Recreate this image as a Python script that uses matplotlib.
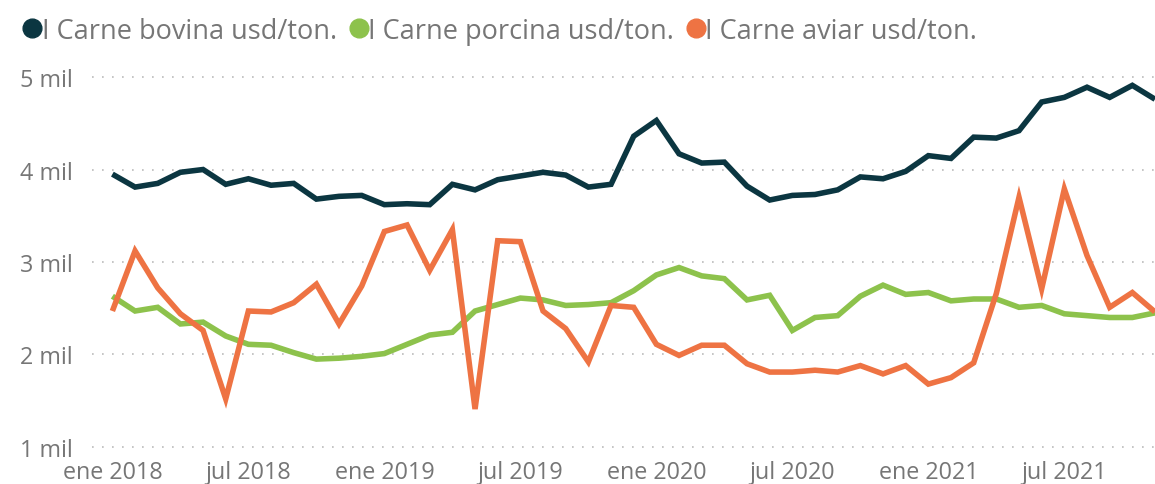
import matplotlib
matplotlib.use("Agg")
import matplotlib.pyplot as plt
from matplotlib.lines import Line2D

# monthly prices, ene 2018 .. nov 2021 (thousand usd/ton)
months = list(range(47))
bovina = [3.95, 3.81, 3.85, 3.97, 4.00, 3.84, 3.90, 3.83, 3.85, 3.68, 3.71, 3.72,
          3.62, 3.63, 3.62, 3.84, 3.78, 3.89, 3.93, 3.97, 3.94, 3.81, 3.84, 4.36,
          4.53, 4.17, 4.07, 4.08, 3.82, 3.67, 3.72, 3.73, 3.78, 3.92, 3.90, 3.98,
          4.15, 4.12, 4.35, 4.34, 4.42, 4.73, 4.78, 4.89, 4.78, 4.91, 4.76]
porcina = [2.63, 2.47, 2.51, 2.33, 2.35, 2.20, 2.11, 2.10, 2.02, 1.95, 1.96, 1.98,
           2.01, 2.11, 2.21, 2.24, 2.47, 2.54, 2.61, 2.59, 2.53, 2.54, 2.56, 2.69,
           2.86, 2.94, 2.85, 2.82, 2.59, 2.64, 2.26, 2.40, 2.42, 2.63, 2.75, 2.65,
           2.67, 2.58, 2.60, 2.60, 2.51, 2.53, 2.44, 2.42, 2.40, 2.40, 2.45]
aviar = [2.47, 3.12, 2.72, 2.44, 2.26, 1.52, 2.47, 2.46, 2.56, 2.76, 2.33, 2.74,
         3.33, 3.40, 2.91, 3.35, 1.41, 3.23, 3.22, 2.47, 2.28, 1.92, 2.53, 2.51,
         2.11, 1.99, 2.10, 2.10, 1.90, 1.81, 1.81, 1.83, 1.81, 1.88, 1.79, 1.88,
         1.68, 1.75, 1.91, 2.66, 3.70, 2.71, 3.79, 3.07, 2.51, 2.67, 2.46]

tick_pos = [0, 6, 12, 18, 24, 30, 36, 42]
tick_labels = ["ene 2018", "jul 2018", "ene 2019", "jul 2019",
               "ene 2020", "jul 2020", "ene 2021", "jul 2021"]
y_ticks = [1, 2, 3, 4, 5]
y_labels = ["1 mil", "2 mil", "3 mil", "4 mil", "5 mil"]

series_names = ["I Carne bovina usd/ton.", "I Carne porcina usd/ton.", "I Carne aviar usd/ton."]
colors = ["#0B3641", "#8DC24C", "#EE7343"]
gray = "#767676"

plt.rcParams['font.family'] = ['Open Sans', 'DejaVu Sans']

fig = plt.figure(figsize=(11.55, 4.85), dpi=100)
ax = fig.add_axes([92 / 1155, 1 - 455 / 485, 1 - 92 / 1155, (455 - 60) / 485])

for vals, c in zip([bovina, porcina, aviar], colors):
    ax.plot(months, vals, color=c, linewidth=4.0, solid_joinstyle='miter', solid_capstyle='butt')

ax.set_xlim(-0.9, 46)
ax.set_ylim(0.924, 5.195)
ax.set_yticks(y_ticks)
ax.set_yticklabels(y_labels)
ax.set_xticks(tick_pos)
ax.set_xticklabels(tick_labels)
ax.tick_params(axis='both', length=0, colors=gray, labelsize=16.8)
ax.tick_params(axis='y', pad=14)
ax.tick_params(axis='x', pad=4)
ax.grid(axis='y', linestyle=(0, (1, 5)), color='#BBBBBB', linewidth=1.2)
ax.set_axisbelow(True)
for s in ax.spines.values():
    s.set_visible(False)

handles = [Line2D([], [], linestyle='none', marker='o', markersize=13.5, color=c) for c in colors]
fig.legend(handles, series_names, loc='upper left', bbox_to_anchor=(-0.006, 1.014), ncol=3,
           frameon=False, handletextpad=-0.2, columnspacing=0.25, handlelength=1.1,
           labelcolor=gray, prop={'size': 19.5})

fig.savefig("out.png", dpi=100)
